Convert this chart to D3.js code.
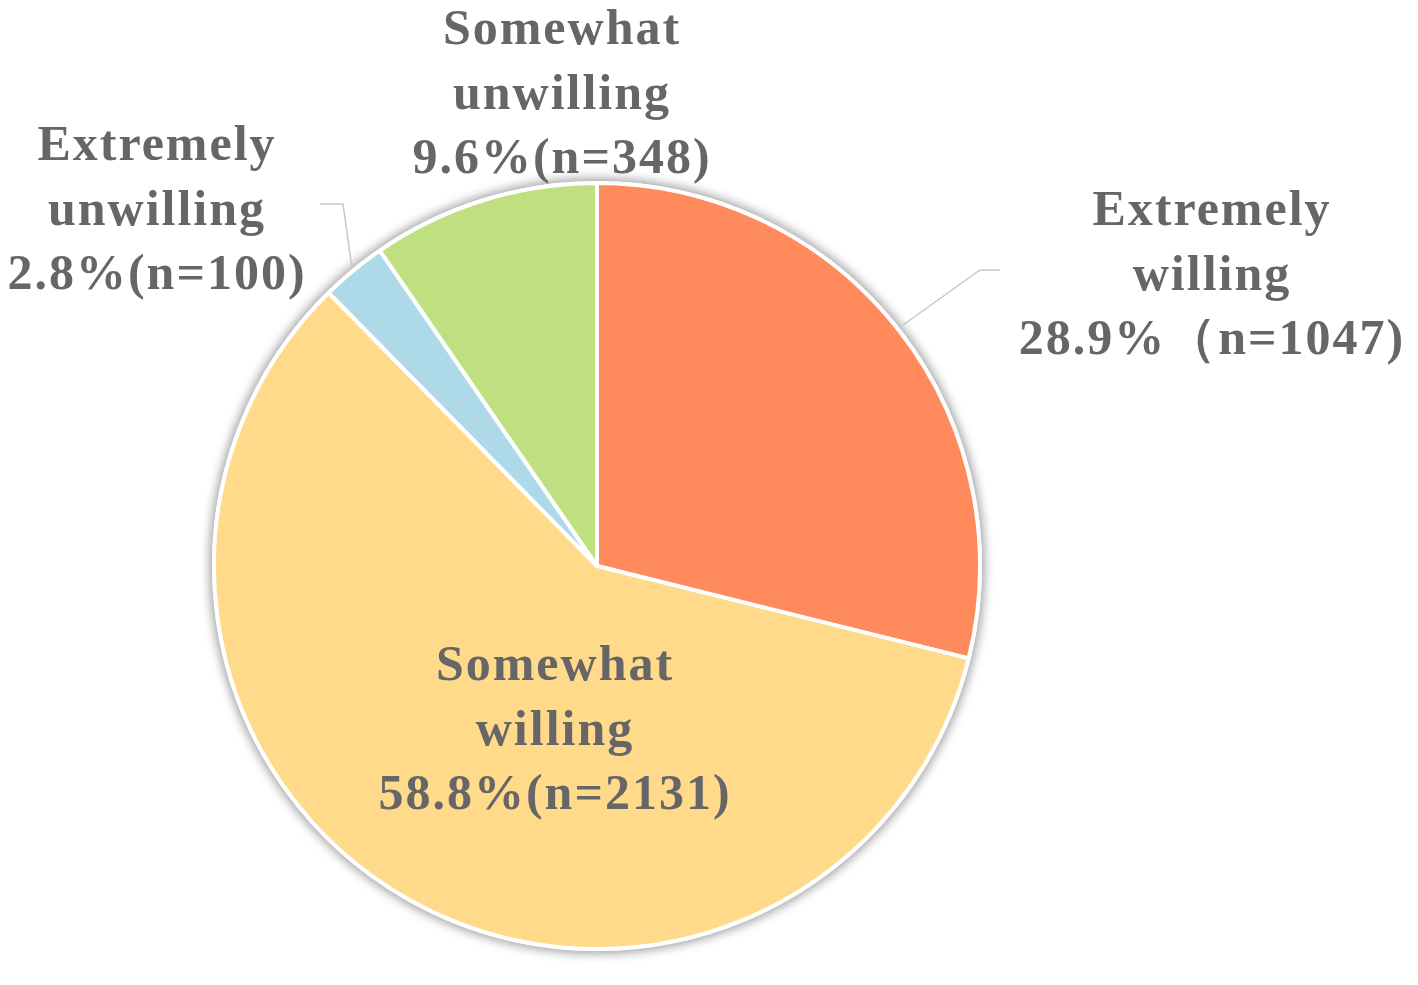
<!DOCTYPE html>
<html><head><meta charset="utf-8">
<script src="https://cdn.jsdelivr.net/npm/d3@7"></script>
<style>body{margin:0;background:#fff}</style>
</head><body>
<svg id="chart" width="1418" height="985"></svg>
<script>
const categories = ["Extremely willing","Somewhat willing","Extremely unwilling","Somewhat unwilling"];
const counts = [1047, 2131, 100, 348];
const percentLabels = ["28.9%（n=1047)","58.8%(n=2131)","2.8%(n=100)","9.6%(n=348)"];
const nameLines = [["Extremely","willing"],["Somewhat","willing"],["Extremely","unwilling"],["Somewhat","unwilling"]];
const colors = ["#FF8A5C","#FFDA8A","#ADD9E8","#BFE080"];

const svg = d3.select("#chart");
const cx = 597, cy = 566, R = 383;
const defs = svg.append("defs");
const f = defs.append("filter").attr("id","blur").attr("x","-10%").attr("y","-10%").attr("width","120%").attr("height","120%");
f.append("feGaussianBlur").attr("stdDeviation",5);

const pie = d3.pie().sort(null).value(d=>d);
const arcs = pie(counts);
const arc = d3.arc().innerRadius(0).outerRadius(R);
const g = svg.append("g").attr("transform",`translate(${cx},${cy})`);
g.append("circle").attr("r",R+5).attr("fill","#8a8a8a").attr("opacity",0.75).attr("filter","url(#blur)");
g.append("circle").attr("r",R+2).attr("fill","#fff");
g.selectAll("path").data(arcs).enter().append("path")
  .attr("d",arc).attr("fill",(d,i)=>colors[i])
  .attr("stroke","#fff").attr("stroke-width",4).attr("stroke-linejoin","round");

// leader lines
const leaders = [
  [[903,325],[980,270],[1000,270]],
  null,
  [[352,268],[343,204],[320,204]],
  null
];
leaders.forEach(l=>{ if(!l) return;
  svg.append("path").attr("d",d3.line()(l)).attr("fill","none").attr("stroke","#c8c8c8").attr("stroke-width",1.5);
});

const labelPos = [[1212,225],[555,680],[157,160],[562,44]];
const lh = 64.5;
labelPos.forEach((p,i)=>{
  const t = svg.append("text").attr("text-anchor","middle")
    .attr("font-family","'Liberation Serif','Times New Roman',serif")
    .attr("font-weight","bold").attr("font-size",50).attr("letter-spacing",2).attr("fill","#666");
  const lines = nameLines[i].concat([percentLabels[i]]);
  lines.forEach((s,j)=>{
    t.append("tspan").attr("x",p[0]).attr("y",p[1]+j*lh).text(s);
  });
});
</script>
</body></html>
